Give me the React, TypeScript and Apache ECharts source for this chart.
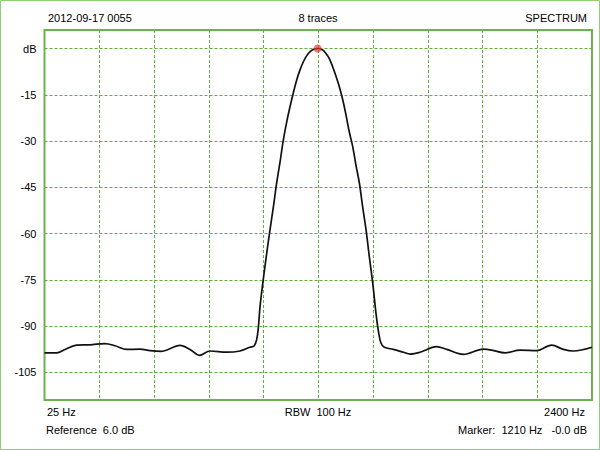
import React, { useEffect, useRef } from "react";
import * as echarts from "echarts";

// Trace: frequency (Hz) and level (dB)
const freqHz = [
  25, 78, 114, 165, 222, 287, 331, 382, 439, 483, 533, 613, 656, 697, 743, 815, 873,
  916, 934, 945, 952, 960, 974, 989, 1003, 1018, 1032, 1047, 1061, 1076, 1090, 1104,
  1119, 1133, 1148, 1162, 1177, 1191, 1210, 1232, 1246, 1260, 1275, 1290, 1304, 1319,
  1333, 1347, 1362, 1376, 1391, 1405, 1420, 1434, 1449, 1463, 1475, 1485, 1499, 1538,
  1582, 1611, 1654, 1726, 1770, 1842, 1929, 1965, 2023, 2088, 2160, 2225, 2276, 2319, 2400,
];
const levelDb = [
  -98.7, -98.7, -97.6, -96.2, -96.1, -95.7, -96.4, -97.6, -97.5, -98.0, -98.2, -96.3, -97.6,
  -99.5, -98.1, -98.5, -98.1, -96.9, -96.5, -94.5, -91.0, -83.7, -74.9, -66.4, -58.9, -51.3,
  -43.7, -36.7, -29.7, -23.7, -18.9, -14.5, -10.2, -7.0, -4.3, -2.4, -1.0, -0.3, 0.0, -0.5,
  -1.6, -3.2, -5.9, -9.1, -12.4, -16.7, -21.6, -27.0, -31.8, -37.8, -43.7, -51.3, -58.9,
  -67.5, -76.2, -85.9, -92.4, -95.6, -96.9, -97.6, -98.5, -99.1, -98.5, -96.7, -97.6, -99.2,
  -97.5, -97.8, -98.7, -97.8, -98.0, -96.2, -97.6, -98.1, -96.9,
];

const markerHz = [1210];
const markerDb = [0.0];

const yTicks = [0, -15, -30, -45, -60, -75, -90, -105];
const xStartHz = 25;
const xEndHz = 2400;
const xDivisions = 10;
const yMin = -114;
const yMax = 6;

const FONT = "Liberation Sans, Arial, Helvetica, sans-serif";

export default function App() {
  const ref = useRef<HTMLDivElement>(null);
  useEffect(() => {
    if (!ref.current) return;
    const chart = echarts.init(ref.current, undefined, { renderer: "svg" });
    const green = "#5fae3f";
    const txt = (text: string, x: number, y: number, align: string) => ({
      type: "text",
      x,
      y,
      style: {
        text,
        fill: "#000",
        font: `11px ${FONT}`,
        align,
        verticalAlign: "middle",
      },
    });
    chart.setOption({
      animation: false,
      backgroundColor: "#ffffff",
      grid: {
        left: 44.5,
        right: 8,
        top: 30,
        bottom: 50,
        show: true,
        borderColor: "#6cb24e",
        borderWidth: 2,
        backgroundColor: "#ffffff",
      },
      xAxis: {
        type: "value",
        min: xStartHz,
        max: xEndHz,
        interval: (xEndHz - xStartHz) / xDivisions,
        axisLine: { show: false },
        axisTick: { show: false },
        axisLabel: { show: false },
        splitLine: {
          show: true,
          showMinLine: false,
          showMaxLine: false,
          lineStyle: { color: green, type: [3, 2], width: 1 },
        },
      },
      yAxis: {
        type: "value",
        min: yMin,
        max: yMax,
        axisLine: { show: false },
        axisTick: { show: false, customValues: yTicks },
        axisLabel: {
          customValues: yTicks,
          color: "#000",
          fontSize: 11,
          fontFamily: FONT,
          margin: 8,
          formatter: (v: number) => (v === 0 ? "dB" : String(v)),
        },
        splitLine: {
          show: true,
          lineStyle: { color: green, type: [3, 2], width: 1 },
        },
      },
      series: [
        {
          type: "line",
          data: freqHz.map((f, i) => [f, levelDb[i]]),
          showSymbol: false,
          smooth: 0.35,
          lineStyle: { color: "#111", width: 1.7 },
          z: 3,
        },
        {
          type: "scatter",
          data: markerHz.map((f, i) => [f, markerDb[i]]),
          symbol: "circle",
          symbolSize: 8,
          itemStyle: { color: "rgba(232,50,50,0.85)" },
          z: 4,
        },
      ],
      graphic: [
        {
          type: "rect",
          shape: { x: 0.5, y: 0.5, width: 599, height: 449 },
          style: { fill: "none", stroke: "#8fcf74", lineWidth: 1 },
          silent: true,
        },
        txt("2012-09-17 0055", 48, 18, "left"),
        txt("8 traces", 318, 18, "center"),
        txt("SPECTRUM", 587, 18, "right"),
        txt("25 Hz", 47, 412, "left"),
        txt("RBW  100 Hz", 318, 412, "center"),
        txt("2400 Hz", 585, 412, "right"),
        txt("Reference  6.0 dB", 46, 430, "left"),
        txt("Marker:  1210 Hz   -0.0 dB", 587, 430, "right"),
      ],
    });
    return () => chart.dispose();
  }, []);
  return (
    <div
      ref={ref}
      style={{ position: "absolute", left: 0, top: 0, width: 600, height: 450 }}
    />
  );
}
